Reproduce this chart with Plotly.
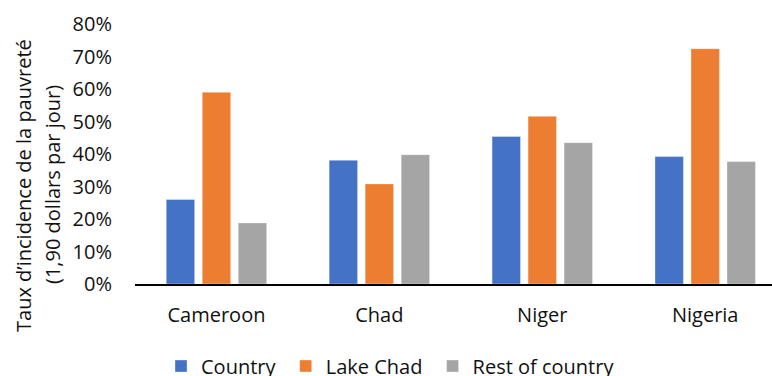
import plotly.graph_objects as go

# Poverty headcount ratio ($1.90 a day), by country and area
categories = ["Cameroon", "Chad", "Niger", "Nigeria"]
country = [0.260, 0.381, 0.454, 0.392]
lake_chad = [0.590, 0.308, 0.516, 0.724]
rest_of_country = [0.188, 0.398, 0.435, 0.377]

series_names = ["Country", "Lake Chad", "Rest of country"]
series_colors = ["#4472C4", "#ED7D31", "#A5A5A5"]
y_ticks = [0, 0.1, 0.2, 0.3, 0.4, 0.5, 0.6, 0.7, 0.8]
y_tick_labels = ["0%", "10%", "20%", "30%", "40%", "50%", "60%", "70%", "80%"]
y_title_lines = ["Taux d’incidence de la pauvreté", "(1,90 dollars par jour)"]

FONT = "'Open Sans', 'Noto Sans', sans-serif"
TEXT = "#111111"

W, H = 772, 376
L, R, T, B = 135, 0, 24, 92
plot_w, plot_h = W - L - R, H - T - B

def px_x(px):
    return (px - L) / plot_w

def px_y(py):
    return (H - B - py) / plot_h

fig = go.Figure()
for name, vals, col in zip(series_names, [country, lake_chad, rest_of_country], series_colors):
    fig.add_trace(go.Bar(
        x=categories, y=vals,
        name=name + "\u00a0",  # a little extra room after each legend label
        marker=dict(color=col, line=dict(color="rgba(255,255,255,0.35)", width=1)),
    ))

fig.update_layout(
    width=W, height=H,
    margin=dict(l=L, r=R, t=T, b=B, autoexpand=False),
    paper_bgcolor="white", plot_bgcolor="white",
    font=dict(family=FONT, size=20, color=TEXT),
    barmode="group", bargap=0.337, bargroupgap=0.21,
    showlegend=True,
    legend=dict(
        orientation="h", x=px_x(161), xanchor="left", y=px_y(366), yanchor="middle",
        font=dict(size=20, color=TEXT), itemwidth=30, traceorder="normal",
        bgcolor="rgba(0,0,0,0)",
    ),
)
fig.update_xaxes(
    range=[-0.5, 3.41], showline=True, linecolor="black", linewidth=2,
    showgrid=False, ticks="", ticklabelstandoff=12, fixedrange=True,
)
fig.update_yaxes(
    range=[0, 0.8], tickvals=y_ticks, ticktext=y_tick_labels,
    showgrid=False, zeroline=False, showline=False, ticks="",
    ticklabelstandoff=22, fixedrange=True,
)

# Two-line rotated y-axis title
for line, cx in zip(y_title_lines, [23, 52]):
    fig.add_annotation(
        text=line, xref="paper", yref="paper", x=px_x(cx), y=px_y(185),
        xanchor="center", yanchor="middle", showarrow=False, textangle=-90,
        font=dict(size=20, color=TEXT),
    )

fig.write_html("out.html")
